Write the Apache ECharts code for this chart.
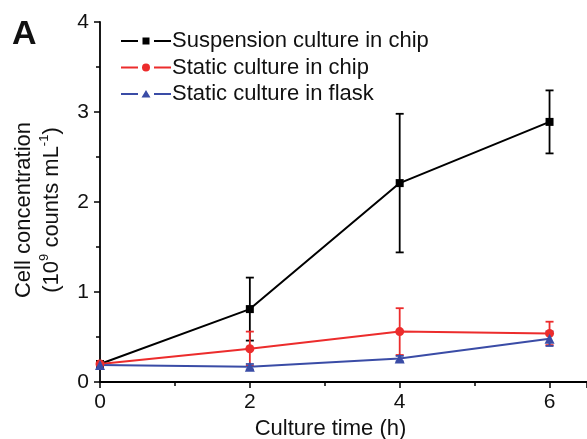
<!DOCTYPE html>
<html><head><meta charset="utf-8">
<script src="https://cdn.jsdelivr.net/npm/echarts@6/dist/echarts.min.js"></script>
<style>html,body{margin:0;padding:0;background:#fff}#c{width:587px;height:439px}</style>
</head><body><div id="c"></div>
<script>
var times = [0, 2, 4, 6];
var xTicks = [0, 2, 4, 6];
var yTicks = [0, 1, 2, 3, 4];
var seriesNames = ['Suspension culture in chip', 'Static culture in chip', 'Static culture in flask'];
var suspension = [0.20, 0.81, 2.21, 2.89];
var suspensionErr = [0.02, 0.35, 0.77, 0.35];
var staticChip = [0.20, 0.37, 0.56, 0.54];
var staticChipErr = [0.02, 0.19, 0.26, 0.13];
var staticFlask = [0.19, 0.17, 0.26, 0.48];
var staticFlaskErr = [0.02, 0.03, 0.03, 0.08];

var FONT = '"Liberation Sans", Arial, sans-serif';
var colors = ['#000000', '#ec2c2c', '#3a4ca6'];
var symbols = ['rect', 'circle', 'triangle'];
var symbolSizes = [8, 9, 10];
var vals = [suspension, staticChip, staticFlask];
var errs = [suspensionErr, staticChipErr, staticFlaskErr];

var lineParts = 'M0,4 L17,4 L17,6 L0,6 Z M33,4 L50,4 L50,6 L33,6 Z ';
var bboxPts = ' M0,0 L0.01,0 L0.01,0.01 Z M0,10 L0.01,10 L0.01,9.99 Z';
var legendIcons = [
  'path://' + lineParts + 'M21.5,1.5 L28.5,1.5 L28.5,8.5 L21.5,8.5 Z' + bboxPts,
  'path://' + lineParts + 'M21,5 A4,4 0 1,0 29,5 A4,4 0 1,0 21,5 Z' + bboxPts,
  'path://' + lineParts + 'M25,1 L29.5,8.5 L20.5,8.5 Z' + bboxPts
];

function errSeries(i) {
  var data = times.map(function (t, k) { return [t, vals[i][k] - errs[i][k], vals[i][k] + errs[i][k]]; });
  return {
    type: 'custom', name: seriesNames[i] + ' err', z: 3,
    data: data,
    renderItem: function (params, api) {
      var lo = api.coord([api.value(0), api.value(1)]);
      var hi = api.coord([api.value(0), api.value(2)]);
      var hw = 4;
      var st = { stroke: colors[i], lineWidth: 1.8, fill: null };
      return { type: 'group', children: [
        { type: 'line', shape: { x1: lo[0], y1: lo[1], x2: hi[0], y2: hi[1] }, style: st },
        { type: 'line', shape: { x1: lo[0] - hw, y1: lo[1], x2: lo[0] + hw, y2: lo[1] }, style: st },
        { type: 'line', shape: { x1: hi[0] - hw, y1: hi[1], x2: hi[0] + hw, y2: hi[1] }, style: st }
      ]};
    }
  };
}

var series = [];
for (var i = 0; i < 3; i++) {
  series.push(errSeries(i));
}
for (var j = 0; j < 3; j++) {
  series.push({
    type: 'line', name: seriesNames[j], z: 4,
    data: times.map(function (t, k) { return [t, vals[j][k]]; }),
    symbol: symbols[j], symbolSize: symbolSizes[j], showAllSymbol: true,
    lineStyle: { color: colors[j], width: 2 },
    itemStyle: { color: colors[j] }
  });
}

var chart = echarts.init(document.getElementById('c'), null, { renderer: 'canvas' });
chart.setOption({
  animation: false,
  textStyle: { fontFamily: FONT },
  grid: { left: 100, right: 0, top: 22, bottom: 57, containLabel: false, outerBoundsMode: 'none' },
  legend: {
    data: seriesNames.map(function (n, k) { return { name: n, icon: legendIcons[k] }; }),
    orient: 'vertical', left: 116, top: 25,
    itemWidth: 50, itemHeight: 10, itemGap: 4.5,
    textStyle: { fontSize: 22, color: '#111', fontFamily: FONT, lineHeight: 22, padding: [0, 0, 0, -4] },
    selectedMode: false
  },
  graphic: [{ type: 'text', left: 12, top: 18, style: { text: 'A', fontSize: 34, fontWeight: 'bold', fill: '#111', fontFamily: FONT } }],
  xAxis: {
    type: 'value', min: 0, max: 6.5, interval: 2,
    name: 'Culture time (h)', nameLocation: 'middle', nameGap: 36,
    nameTextStyle: { fontSize: 22, color: '#111', padding: [0, 26, 0, 0] },
    axisLine: { show: true, lineStyle: { color: '#000', width: 1.8 } },
    axisTick: { show: true, length: 6, lineStyle: { color: '#000', width: 1.5 } },
    minorTick: { show: true, splitNumber: 2, length: 4, lineStyle: { color: '#000', width: 1.5 } },
    axisLabel: { fontSize: 21, color: '#111', margin: 10, showMaxLabel: false,
      formatter: function (v) { return xTicks.indexOf(v) >= 0 ? String(v) : ''; } },
    splitLine: { show: false }
  },
  yAxis: {
    type: 'value', min: 0, max: 4, interval: 1,
    name: 'Cell concentration\n(10{sup|9} counts mL{sup|-1})', nameLocation: 'middle', nameGap: 31,
    nameTextStyle: { fontSize: 22, color: '#111', lineHeight: 28, padding: [0, 16, 0, 0],
      rich: { sup: { fontSize: 13, verticalAlign: 'top', lineHeight: 28, padding: [0, 0, 12, 0] } } },
    axisLine: { show: true, lineStyle: { color: '#000', width: 1.8 } },
    axisTick: { show: true, length: 6, lineStyle: { color: '#000', width: 1.5 } },
    minorTick: { show: true, splitNumber: 2, length: 4, lineStyle: { color: '#000', width: 1.5 } },
    axisLabel: { fontSize: 21, color: '#111', margin: 11,
      formatter: function (v) { return yTicks.indexOf(v) >= 0 ? String(v) : ''; } },
    splitLine: { show: false }
  },
  series: series
});
</script></body></html>
